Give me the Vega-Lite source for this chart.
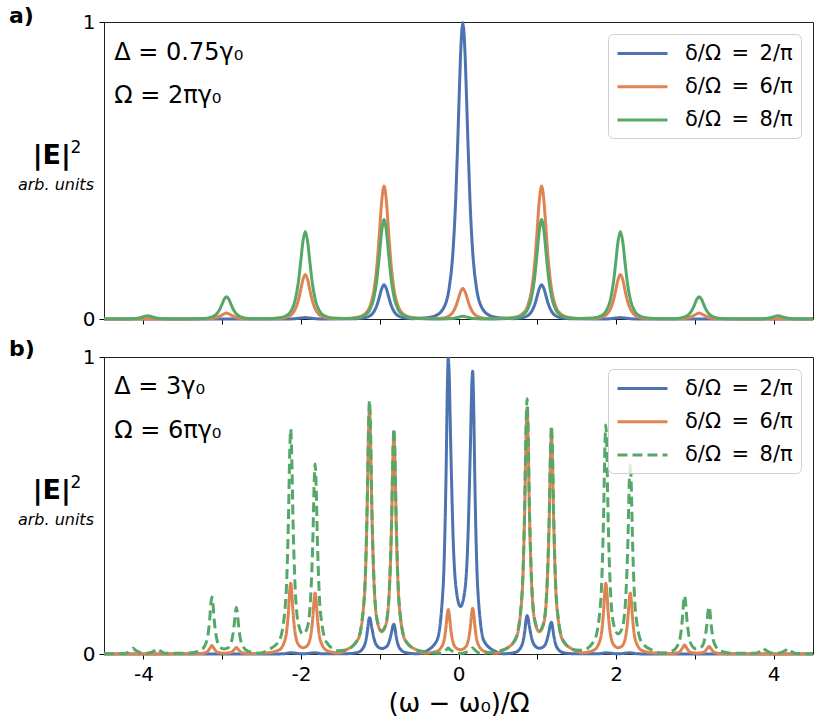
{
  "$schema": "https://vega.github.io/schema/vega-lite/v6.json",
  "padding": {"left": 8, "top": 4, "right": 10, "bottom": 6},
  "background": "white",
  "config": {
    "font": "DejaVu Sans",
    "view": {"stroke": "#222", "strokeWidth": 1},
    "axis": {"grid": false, "domain": false, "tickColor": "#000", "tickSize": 5, "tickWidth": 1, "labelColor": "#000", "labelFontSize": 20, "labelFont": "DejaVu Sans", "titleColor": "#000", "titleFont": "DejaVu Sans", "titleFontWeight": "normal"},
    "legend": {"orient": "top-right", "offset": 12, "fillColor": "rgba(255,255,255,0.8)", "strokeColor": "#d0d0d0", "cornerRadius": 5, "padding": 8, "labelFontSize": 21, "labelFont": "DejaVu Sans", "labelColor": "#000", "symbolType": "M-1,0H4", "symbolStrokeWidth": 3, "symbolSize": 400, "rowPadding": 11.2, "labelOffset": 46, "labelLimit": 400}
  },
  "datasets": {
    "a": [
      {"s":"2/π","x":-4.5,"y":0},{"s":"2/π","x":-2.5,"y":0},
      {"s":"2/π","x":-2.195,"y":0.0002},{"s":"2/π","x":-2.075,"y":0.001},{"s":"2/π","x":-2.005,"y":0.003},{"s":"2/π","x":-1.945,"y":0.005},{"s":"2/π","x":-1.885,"y":0.003},{"s":"2/π","x":-1.815,"y":0.001},{"s":"2/π","x":-1.695,"y":0.0002},
      {"s":"2/π","x":-1.295,"y":0.0012},{"s":"2/π","x":-1.195,"y":0.0039},{"s":"2/π","x":-1.125,"y":0.0106},{"s":"2/π","x":-1.075,"y":0.0239},{"s":"2/π","x":-1.035,"y":0.0466},{"s":"2/π","x":-1.005,"y":0.0731},{"s":"2/π","x":-0.975,"y":0.1017},{"s":"2/π","x":-0.945,"y":0.115},{"s":"2/π","x":-0.915,"y":0.1017},{"s":"2/π","x":-0.885,"y":0.0731},{"s":"2/π","x":-0.855,"y":0.0466},{"s":"2/π","x":-0.815,"y":0.0239},{"s":"2/π","x":-0.765,"y":0.0106},{"s":"2/π","x":-0.695,"y":0.0039},{"s":"2/π","x":-0.595,"y":0.0012},
      {"s":"2/π","x":-0.445,"y":0.003},
      {"s":"2/π","x":-0.295,"y":0.0107},{"s":"2/π","x":-0.195,"y":0.0339},{"s":"2/π","x":-0.125,"y":0.0923},{"s":"2/π","x":-0.075,"y":0.2076},{"s":"2/π","x":-0.035,"y":0.4042},{"s":"2/π","x":-0.005,"y":0.6347},{"s":"2/π","x":0.025,"y":0.8822},{"s":"2/π","x":0.055,"y":0.998},{"s":"2/π","x":0.085,"y":0.8822},{"s":"2/π","x":0.115,"y":0.6347},{"s":"2/π","x":0.145,"y":0.4042},{"s":"2/π","x":0.185,"y":0.2076},{"s":"2/π","x":0.235,"y":0.0923},{"s":"2/π","x":0.305,"y":0.0339},{"s":"2/π","x":0.405,"y":0.0107},
      {"s":"2/π","x":0.555,"y":0.003},
      {"s":"2/π","x":0.705,"y":0.0012},{"s":"2/π","x":0.805,"y":0.0039},{"s":"2/π","x":0.875,"y":0.0106},{"s":"2/π","x":0.925,"y":0.0239},{"s":"2/π","x":0.965,"y":0.0466},{"s":"2/π","x":0.995,"y":0.0731},{"s":"2/π","x":1.025,"y":0.1017},{"s":"2/π","x":1.055,"y":0.115},{"s":"2/π","x":1.085,"y":0.1017},{"s":"2/π","x":1.115,"y":0.0731},{"s":"2/π","x":1.145,"y":0.0466},{"s":"2/π","x":1.185,"y":0.0239},{"s":"2/π","x":1.235,"y":0.0106},{"s":"2/π","x":1.305,"y":0.0039},{"s":"2/π","x":1.405,"y":0.0012},
      {"s":"2/π","x":1.805,"y":0.0002},{"s":"2/π","x":1.925,"y":0.001},{"s":"2/π","x":1.995,"y":0.003},{"s":"2/π","x":2.055,"y":0.005},{"s":"2/π","x":2.115,"y":0.003},{"s":"2/π","x":2.185,"y":0.001},{"s":"2/π","x":2.305,"y":0.0002},
      {"s":"2/π","x":2.6,"y":0},{"s":"2/π","x":4.5,"y":0},

      {"s":"6/π","x":-4.5,"y":0},{"s":"6/π","x":-3.445,"y":0.0002},
      {"s":"6/π","x":-3.195,"y":0.0007},{"s":"6/π","x":-3.075,"y":0.0042},{"s":"6/π","x":-3.005,"y":0.0127},{"s":"6/π","x":-2.945,"y":0.02},{"s":"6/π","x":-2.885,"y":0.0127},{"s":"6/π","x":-2.815,"y":0.0042},{"s":"6/π","x":-2.695,"y":0.0007},
      {"s":"6/π","x":-2.445,"y":0.0005},
      {"s":"6/π","x":-2.295,"y":0.0016},{"s":"6/π","x":-2.195,"y":0.0051},{"s":"6/π","x":-2.125,"y":0.0139},{"s":"6/π","x":-2.075,"y":0.0312},{"s":"6/π","x":-2.035,"y":0.0608},{"s":"6/π","x":-2.005,"y":0.0954},{"s":"6/π","x":-1.975,"y":0.1326},{"s":"6/π","x":-1.945,"y":0.15},{"s":"6/π","x":-1.915,"y":0.1326},{"s":"6/π","x":-1.885,"y":0.0954},{"s":"6/π","x":-1.855,"y":0.0608},{"s":"6/π","x":-1.815,"y":0.0312},{"s":"6/π","x":-1.765,"y":0.0139},{"s":"6/π","x":-1.695,"y":0.0051},{"s":"6/π","x":-1.595,"y":0.0016},
      {"s":"6/π","x":-1.445,"y":0.0017},
      {"s":"6/π","x":-1.295,"y":0.0048},{"s":"6/π","x":-1.195,"y":0.0152},{"s":"6/π","x":-1.125,"y":0.0414},{"s":"6/π","x":-1.075,"y":0.0932},{"s":"6/π","x":-1.035,"y":0.1814},{"s":"6/π","x":-1.005,"y":0.2849},{"s":"6/π","x":-0.975,"y":0.396},{"s":"6/π","x":-0.945,"y":0.448},{"s":"6/π","x":-0.915,"y":0.396},{"s":"6/π","x":-0.885,"y":0.2849},{"s":"6/π","x":-0.855,"y":0.1814},{"s":"6/π","x":-0.815,"y":0.0932},{"s":"6/π","x":-0.765,"y":0.0414},{"s":"6/π","x":-0.695,"y":0.0152},{"s":"6/π","x":-0.595,"y":0.0048},
      {"s":"6/π","x":-0.445,"y":0.0016},
      {"s":"6/π","x":-0.295,"y":0.0011},{"s":"6/π","x":-0.195,"y":0.0035},{"s":"6/π","x":-0.125,"y":0.0095},{"s":"6/π","x":-0.075,"y":0.0214},{"s":"6/π","x":-0.035,"y":0.0417},{"s":"6/π","x":-0.005,"y":0.0655},{"s":"6/π","x":0.025,"y":0.091},{"s":"6/π","x":0.055,"y":0.103},{"s":"6/π","x":0.085,"y":0.091},{"s":"6/π","x":0.115,"y":0.0655},{"s":"6/π","x":0.145,"y":0.0417},{"s":"6/π","x":0.185,"y":0.0214},{"s":"6/π","x":0.235,"y":0.0095},{"s":"6/π","x":0.305,"y":0.0035},{"s":"6/π","x":0.405,"y":0.0011},
      {"s":"6/π","x":0.555,"y":0.0016},
      {"s":"6/π","x":0.705,"y":0.0048},{"s":"6/π","x":0.805,"y":0.0152},{"s":"6/π","x":0.875,"y":0.0414},{"s":"6/π","x":0.925,"y":0.0932},{"s":"6/π","x":0.965,"y":0.1814},{"s":"6/π","x":0.995,"y":0.2849},{"s":"6/π","x":1.025,"y":0.396},{"s":"6/π","x":1.055,"y":0.448},{"s":"6/π","x":1.085,"y":0.396},{"s":"6/π","x":1.115,"y":0.2849},{"s":"6/π","x":1.145,"y":0.1814},{"s":"6/π","x":1.185,"y":0.0932},{"s":"6/π","x":1.235,"y":0.0414},{"s":"6/π","x":1.305,"y":0.0152},{"s":"6/π","x":1.405,"y":0.0048},
      {"s":"6/π","x":1.555,"y":0.0017},
      {"s":"6/π","x":1.705,"y":0.0016},{"s":"6/π","x":1.805,"y":0.0051},{"s":"6/π","x":1.875,"y":0.0139},{"s":"6/π","x":1.925,"y":0.0312},{"s":"6/π","x":1.965,"y":0.0608},{"s":"6/π","x":1.995,"y":0.0954},{"s":"6/π","x":2.025,"y":0.1326},{"s":"6/π","x":2.055,"y":0.15},{"s":"6/π","x":2.085,"y":0.1326},{"s":"6/π","x":2.115,"y":0.0954},{"s":"6/π","x":2.145,"y":0.0608},{"s":"6/π","x":2.185,"y":0.0312},{"s":"6/π","x":2.235,"y":0.0139},{"s":"6/π","x":2.305,"y":0.0051},{"s":"6/π","x":2.405,"y":0.0016},
      {"s":"6/π","x":2.555,"y":0.0005},
      {"s":"6/π","x":2.805,"y":0.0007},{"s":"6/π","x":2.925,"y":0.0042},{"s":"6/π","x":2.995,"y":0.0127},{"s":"6/π","x":3.055,"y":0.02},{"s":"6/π","x":3.115,"y":0.0127},{"s":"6/π","x":3.185,"y":0.0042},{"s":"6/π","x":3.305,"y":0.0007},
      {"s":"6/π","x":3.555,"y":0.0002},{"s":"6/π","x":4.5,"y":0},

      {"s":"8/π","x":-4.5,"y":0.0001},
      {"s":"8/π","x":-4.195,"y":0.0004},{"s":"8/π","x":-4.075,"y":0.0023},{"s":"8/π","x":-4.005,"y":0.007},{"s":"8/π","x":-3.945,"y":0.011},{"s":"8/π","x":-3.885,"y":0.007},{"s":"8/π","x":-3.815,"y":0.0023},{"s":"8/π","x":-3.695,"y":0.0004},
      {"s":"8/π","x":-3.445,"y":0.0003},
      {"s":"8/π","x":-3.295,"y":0.0008},{"s":"8/π","x":-3.195,"y":0.0026},{"s":"8/π","x":-3.125,"y":0.0069},{"s":"8/π","x":-3.075,"y":0.0156},{"s":"8/π","x":-3.035,"y":0.0304},{"s":"8/π","x":-3.005,"y":0.0477},{"s":"8/π","x":-2.975,"y":0.0663},{"s":"8/π","x":-2.945,"y":0.075},{"s":"8/π","x":-2.915,"y":0.0663},{"s":"8/π","x":-2.885,"y":0.0477},{"s":"8/π","x":-2.855,"y":0.0304},{"s":"8/π","x":-2.815,"y":0.0156},{"s":"8/π","x":-2.765,"y":0.0069},{"s":"8/π","x":-2.695,"y":0.0026},{"s":"8/π","x":-2.595,"y":0.0008},
      {"s":"8/π","x":-2.445,"y":0.0011},
      {"s":"8/π","x":-2.295,"y":0.0032},{"s":"8/π","x":-2.195,"y":0.01},{"s":"8/π","x":-2.125,"y":0.0273},{"s":"8/π","x":-2.075,"y":0.0614},{"s":"8/π","x":-2.035,"y":0.1195},{"s":"8/π","x":-2.005,"y":0.1876},{"s":"8/π","x":-1.975,"y":0.2608},{"s":"8/π","x":-1.945,"y":0.295},{"s":"8/π","x":-1.915,"y":0.2608},{"s":"8/π","x":-1.885,"y":0.1876},{"s":"8/π","x":-1.855,"y":0.1195},{"s":"8/π","x":-1.815,"y":0.0614},{"s":"8/π","x":-1.765,"y":0.0273},{"s":"8/π","x":-1.695,"y":0.01},{"s":"8/π","x":-1.595,"y":0.0032},
      {"s":"8/π","x":-1.445,"y":0.0018},
      {"s":"8/π","x":-1.295,"y":0.0036},{"s":"8/π","x":-1.195,"y":0.0114},{"s":"8/π","x":-1.125,"y":0.031},{"s":"8/π","x":-1.075,"y":0.0697},{"s":"8/π","x":-1.035,"y":0.1357},{"s":"8/π","x":-1.005,"y":0.2131},{"s":"8/π","x":-0.975,"y":0.2961},{"s":"8/π","x":-0.945,"y":0.335},{"s":"8/π","x":-0.915,"y":0.2961},{"s":"8/π","x":-0.885,"y":0.2131},{"s":"8/π","x":-0.855,"y":0.1357},{"s":"8/π","x":-0.815,"y":0.0697},{"s":"8/π","x":-0.765,"y":0.031},{"s":"8/π","x":-0.695,"y":0.0114},{"s":"8/π","x":-0.595,"y":0.0036},
      {"s":"8/π","x":-0.445,"y":0.001},
      {"s":"8/π","x":-0.195,"y":0.0003},{"s":"8/π","x":-0.075,"y":0.0019},{"s":"8/π","x":-0.005,"y":0.0057},{"s":"8/π","x":0.055,"y":0.009},{"s":"8/π","x":0.115,"y":0.0057},{"s":"8/π","x":0.185,"y":0.0019},{"s":"8/π","x":0.305,"y":0.0003},
      {"s":"8/π","x":0.555,"y":0.001},
      {"s":"8/π","x":0.705,"y":0.0036},{"s":"8/π","x":0.805,"y":0.0114},{"s":"8/π","x":0.875,"y":0.031},{"s":"8/π","x":0.925,"y":0.0697},{"s":"8/π","x":0.965,"y":0.1357},{"s":"8/π","x":0.995,"y":0.2131},{"s":"8/π","x":1.025,"y":0.2961},{"s":"8/π","x":1.055,"y":0.335},{"s":"8/π","x":1.085,"y":0.2961},{"s":"8/π","x":1.115,"y":0.2131},{"s":"8/π","x":1.145,"y":0.1357},{"s":"8/π","x":1.185,"y":0.0697},{"s":"8/π","x":1.235,"y":0.031},{"s":"8/π","x":1.305,"y":0.0114},{"s":"8/π","x":1.405,"y":0.0036},
      {"s":"8/π","x":1.555,"y":0.0018},
      {"s":"8/π","x":1.705,"y":0.0032},{"s":"8/π","x":1.805,"y":0.01},{"s":"8/π","x":1.875,"y":0.0273},{"s":"8/π","x":1.925,"y":0.0614},{"s":"8/π","x":1.965,"y":0.1195},{"s":"8/π","x":1.995,"y":0.1876},{"s":"8/π","x":2.025,"y":0.2608},{"s":"8/π","x":2.055,"y":0.295},{"s":"8/π","x":2.085,"y":0.2608},{"s":"8/π","x":2.115,"y":0.1876},{"s":"8/π","x":2.145,"y":0.1195},{"s":"8/π","x":2.185,"y":0.0614},{"s":"8/π","x":2.235,"y":0.0273},{"s":"8/π","x":2.305,"y":0.01},{"s":"8/π","x":2.405,"y":0.0032},
      {"s":"8/π","x":2.555,"y":0.0011},
      {"s":"8/π","x":2.705,"y":0.0008},{"s":"8/π","x":2.805,"y":0.0026},{"s":"8/π","x":2.875,"y":0.0069},{"s":"8/π","x":2.925,"y":0.0156},{"s":"8/π","x":2.965,"y":0.0304},{"s":"8/π","x":2.995,"y":0.0477},{"s":"8/π","x":3.025,"y":0.0663},{"s":"8/π","x":3.055,"y":0.075},{"s":"8/π","x":3.085,"y":0.0663},{"s":"8/π","x":3.115,"y":0.0477},{"s":"8/π","x":3.145,"y":0.0304},{"s":"8/π","x":3.185,"y":0.0156},{"s":"8/π","x":3.235,"y":0.0069},{"s":"8/π","x":3.305,"y":0.0026},{"s":"8/π","x":3.405,"y":0.0008},
      {"s":"8/π","x":3.555,"y":0.0003},
      {"s":"8/π","x":3.805,"y":0.0004},{"s":"8/π","x":3.925,"y":0.0023},{"s":"8/π","x":3.995,"y":0.007},{"s":"8/π","x":4.055,"y":0.011},{"s":"8/π","x":4.115,"y":0.007},{"s":"8/π","x":4.185,"y":0.0023},{"s":"8/π","x":4.305,"y":0.0004},
      {"s":"8/π","x":4.5,"y":0.0001}
    ],
    "b": [
      {"s":"2/π","x":-4.5,"y":0},{"s":"2/π","x":-2.6,"y":0},
      {"s":"2/π","x":-2.225,"y":0.0005},{"s":"2/π","x":-2.13,"y":0.004},{"s":"2/π","x":-1.975,"y":0.0005},{"s":"2/π","x":-1.82,"y":0.004},{"s":"2/π","x":-1.725,"y":0.0005},
      {"s":"2/π","x":-1.425,"y":0.001},{"s":"2/π","x":-1.275,"y":0.0057},{"s":"2/π","x":-1.195,"y":0.028},{"s":"2/π","x":-1.16,"y":0.0703},{"s":"2/π","x":-1.14,"y":0.1122},{"s":"2/π","x":-1.13,"y":0.1222},{"s":"2/π","x":-1.12,"y":0.1172},{"s":"2/π","x":-1.1,"y":0.0879},{"s":"2/π","x":-1.065,"y":0.0447},{"s":"2/π","x":-1.025,"y":0.0249},{"s":"2/π","x":-0.975,"y":0.0184},{"s":"2/π","x":-0.925,"y":0.0225},{"s":"2/π","x":-0.885,"y":0.038},{"s":"2/π","x":-0.85,"y":0.0731},{"s":"2/π","x":-0.83,"y":0.0967},{"s":"2/π","x":-0.82,"y":0.1003},{"s":"2/π","x":-0.81,"y":0.0916},{"s":"2/π","x":-0.79,"y":0.0575},{"s":"2/π","x":-0.755,"y":0.023},{"s":"2/π","x":-0.675,"y":0.005},{"s":"2/π","x":-0.525,"y":0.0008},
      {"s":"2/π","x":-0.425,"y":0.008},{"s":"2/π","x":-0.275,"y":0.045},{"s":"2/π","x":-0.195,"y":0.227},{"s":"2/π","x":-0.16,"y":0.572},{"s":"2/π","x":-0.14,"y":0.912},{"s":"2/π","x":-0.13,"y":0.996},{"s":"2/π","x":-0.12,"y":0.955},{"s":"2/π","x":-0.1,"y":0.718},{"s":"2/π","x":-0.065,"y":0.368},{"s":"2/π","x":-0.025,"y":0.209},{"s":"2/π","x":0.025,"y":0.16},{"s":"2/π","x":0.075,"y":0.204},{"s":"2/π","x":0.115,"y":0.354},{"s":"2/π","x":0.15,"y":0.688},{"s":"2/π","x":0.17,"y":0.913},{"s":"2/π","x":0.18,"y":0.952},{"s":"2/π","x":0.19,"y":0.871},{"s":"2/π","x":0.21,"y":0.546},{"s":"2/π","x":0.245,"y":0.217},{"s":"2/π","x":0.325,"y":0.043},{"s":"2/π","x":0.475,"y":0.008},
      {"s":"2/π","x":0.575,"y":0.0008},{"s":"2/π","x":0.725,"y":0.006},{"s":"2/π","x":0.805,"y":0.0296},{"s":"2/π","x":0.84,"y":0.0744},{"s":"2/π","x":0.86,"y":0.1187},{"s":"2/π","x":0.87,"y":0.1293},{"s":"2/π","x":0.88,"y":0.124},{"s":"2/π","x":0.9,"y":0.093},{"s":"2/π","x":0.935,"y":0.0473},{"s":"2/π","x":0.975,"y":0.0264},{"s":"2/π","x":1.025,"y":0.0195},{"s":"2/π","x":1.075,"y":0.0238},{"s":"2/π","x":1.115,"y":0.0402},{"s":"2/π","x":1.15,"y":0.0774},{"s":"2/π","x":1.17,"y":0.1025},{"s":"2/π","x":1.18,"y":0.1069},{"s":"2/π","x":1.19,"y":0.0976},{"s":"2/π","x":1.21,"y":0.0613},{"s":"2/π","x":1.245,"y":0.0245},{"s":"2/π","x":1.325,"y":0.005},{"s":"2/π","x":1.475,"y":0.0008},
      {"s":"2/π","x":1.775,"y":0.0005},{"s":"2/π","x":1.87,"y":0.004},{"s":"2/π","x":2.025,"y":0.0005},{"s":"2/π","x":2.18,"y":0.004},{"s":"2/π","x":2.275,"y":0.0005},
      {"s":"2/π","x":2.6,"y":0},{"s":"2/π","x":4.5,"y":0},

      {"s":"6/π","x":-4.5,"y":0},{"s":"6/π","x":-3.6,"y":0.0005},
      {"s":"6/π","x":-3.275,"y":0.0017},{"s":"6/π","x":-3.195,"y":0.0065},{"s":"6/π","x":-3.15,"y":0.0213},{"s":"6/π","x":-3.13,"y":0.0283},{"s":"6/π","x":-3.11,"y":0.0213},{"s":"6/π","x":-3.065,"y":0.0067},{"s":"6/π","x":-2.975,"y":0.0024},{"s":"6/π","x":-2.885,"y":0.0058},{"s":"6/π","x":-2.84,"y":0.0169},{"s":"6/π","x":-2.82,"y":0.0223},{"s":"6/π","x":-2.8,"y":0.0169},{"s":"6/π","x":-2.755,"y":0.0052},{"s":"6/π","x":-2.675,"y":0.0014},
      {"s":"6/π","x":-2.425,"y":0.004},{"s":"6/π","x":-2.275,"y":0.0142},{"s":"6/π","x":-2.195,"y":0.0548},{"s":"6/π","x":-2.16,"y":0.1382},{"s":"6/π","x":-2.14,"y":0.2206},{"s":"6/π","x":-2.13,"y":0.2386},{"s":"6/π","x":-2.12,"y":0.2209},{"s":"6/π","x":-2.1,"y":0.1392},{"s":"6/π","x":-2.065,"y":0.0571},{"s":"6/π","x":-2.025,"y":0.0293},{"s":"6/π","x":-1.975,"y":0.0212},{"s":"6/π","x":-1.925,"y":0.0269},{"s":"6/π","x":-1.885,"y":0.0501},{"s":"6/π","x":-1.85,"y":0.1201},{"s":"6/π","x":-1.83,"y":0.1899},{"s":"6/π","x":-1.82,"y":0.205},{"s":"6/π","x":-1.81,"y":0.1895},{"s":"6/π","x":-1.79,"y":0.1189},{"s":"6/π","x":-1.755,"y":0.0475},{"s":"6/π","x":-1.675,"y":0.0125},{"s":"6/π","x":-1.525,"y":0.0036},
      {"s":"6/π","x":-1.425,"y":0.0138},{"s":"6/π","x":-1.275,"y":0.0495},{"s":"6/π","x":-1.195,"y":0.1906},{"s":"6/π","x":-1.16,"y":0.4804},{"s":"6/π","x":-1.14,"y":0.7667},{"s":"6/π","x":-1.13,"y":0.8292},{"s":"6/π","x":-1.12,"y":0.7679},{"s":"6/π","x":-1.1,"y":0.484},{"s":"6/π","x":-1.065,"y":0.1989},{"s":"6/π","x":-1.025,"y":0.1027},{"s":"6/π","x":-0.975,"y":0.0752},{"s":"6/π","x":-0.925,"y":0.0962},{"s":"6/π","x":-0.885,"y":0.1805},{"s":"6/π","x":-0.85,"y":0.4335},{"s":"6/π","x":-0.83,"y":0.6859},{"s":"6/π","x":-0.82,"y":0.7403},{"s":"6/π","x":-0.81,"y":0.6846},{"s":"6/π","x":-0.79,"y":0.4295},{"s":"6/π","x":-0.755,"y":0.1712},{"s":"6/π","x":-0.675,"y":0.0451},{"s":"6/π","x":-0.525,"y":0.0129},
      {"s":"6/π","x":-0.425,"y":0.0026},{"s":"6/π","x":-0.275,"y":0.0091},{"s":"6/π","x":-0.195,"y":0.0346},{"s":"6/π","x":-0.16,"y":0.0869},{"s":"6/π","x":-0.14,"y":0.1386},{"s":"6/π","x":-0.13,"y":0.1499},{"s":"6/π","x":-0.12,"y":0.1389},{"s":"6/π","x":-0.1,"y":0.0877},{"s":"6/π","x":-0.065,"y":0.0363},{"s":"6/π","x":-0.025,"y":0.0191},{"s":"6/π","x":0.025,"y":0.0146},{"s":"6/π","x":0.075,"y":0.0194},{"s":"6/π","x":0.115,"y":0.0371},{"s":"6/π","x":0.15,"y":0.0899},{"s":"6/π","x":0.17,"y":0.1425},{"s":"6/π","x":0.18,"y":0.1539},{"s":"6/π","x":0.19,"y":0.1423},{"s":"6/π","x":0.21,"y":0.0892},{"s":"6/π","x":0.245,"y":0.0354},{"s":"6/π","x":0.325,"y":0.0093},{"s":"6/π","x":0.475,"y":0.0026},
      {"s":"6/π","x":0.575,"y":0.0138},{"s":"6/π","x":0.725,"y":0.0495},{"s":"6/π","x":0.805,"y":0.1906},{"s":"6/π","x":0.84,"y":0.4804},{"s":"6/π","x":0.86,"y":0.7667},{"s":"6/π","x":0.87,"y":0.8292},{"s":"6/π","x":0.88,"y":0.7679},{"s":"6/π","x":0.9,"y":0.484},{"s":"6/π","x":0.935,"y":0.1989},{"s":"6/π","x":0.975,"y":0.1027},{"s":"6/π","x":1.025,"y":0.0752},{"s":"6/π","x":1.075,"y":0.0962},{"s":"6/π","x":1.115,"y":0.1805},{"s":"6/π","x":1.15,"y":0.4335},{"s":"6/π","x":1.17,"y":0.6859},{"s":"6/π","x":1.18,"y":0.7403},{"s":"6/π","x":1.19,"y":0.6846},{"s":"6/π","x":1.21,"y":0.4295},{"s":"6/π","x":1.245,"y":0.1712},{"s":"6/π","x":1.325,"y":0.0451},{"s":"6/π","x":1.475,"y":0.0129},
      {"s":"6/π","x":1.575,"y":0.004},{"s":"6/π","x":1.725,"y":0.0142},{"s":"6/π","x":1.805,"y":0.0548},{"s":"6/π","x":1.84,"y":0.1382},{"s":"6/π","x":1.86,"y":0.2206},{"s":"6/π","x":1.87,"y":0.2386},{"s":"6/π","x":1.88,"y":0.2209},{"s":"6/π","x":1.9,"y":0.1392},{"s":"6/π","x":1.935,"y":0.0571},{"s":"6/π","x":1.975,"y":0.0293},{"s":"6/π","x":2.025,"y":0.0212},{"s":"6/π","x":2.075,"y":0.0269},{"s":"6/π","x":2.115,"y":0.0501},{"s":"6/π","x":2.15,"y":0.1201},{"s":"6/π","x":2.17,"y":0.1899},{"s":"6/π","x":2.18,"y":0.205},{"s":"6/π","x":2.19,"y":0.1895},{"s":"6/π","x":2.21,"y":0.1189},{"s":"6/π","x":2.245,"y":0.0475},{"s":"6/π","x":2.325,"y":0.0125},{"s":"6/π","x":2.475,"y":0.0036},
      {"s":"6/π","x":2.725,"y":0.0018},{"s":"6/π","x":2.805,"y":0.0069},{"s":"6/π","x":2.85,"y":0.0229},{"s":"6/π","x":2.87,"y":0.0303},{"s":"6/π","x":2.89,"y":0.0229},{"s":"6/π","x":2.935,"y":0.0072},{"s":"6/π","x":3.025,"y":0.0027},{"s":"6/π","x":3.115,"y":0.0062},{"s":"6/π","x":3.16,"y":0.0193},{"s":"6/π","x":3.18,"y":0.0254},{"s":"6/π","x":3.2,"y":0.0193},{"s":"6/π","x":3.245,"y":0.0059},{"s":"6/π","x":3.325,"y":0.0015},
      {"s":"6/π","x":3.6,"y":0.0005},{"s":"6/π","x":4.5,"y":0},

      {"s":"8/π","x":-4.5,"y":0.0005},
      {"s":"8/π","x":-4.225,"y":0.0025},{"s":"8/π","x":-4.15,"y":0.0145},{"s":"8/π","x":-4.13,"y":0.0192},{"s":"8/π","x":-4.11,"y":0.0145},{"s":"8/π","x":-3.975,"y":0.0018},{"s":"8/π","x":-3.84,"y":0.0138},{"s":"8/π","x":-3.82,"y":0.0182},{"s":"8/π","x":-3.8,"y":0.0138},{"s":"8/π","x":-3.725,"y":0.0024},
      {"s":"8/π","x":-3.425,"y":0.0031},{"s":"8/π","x":-3.275,"y":0.0114},{"s":"8/π","x":-3.195,"y":0.0441},{"s":"8/π","x":-3.16,"y":0.1112},{"s":"8/π","x":-3.14,"y":0.1775},{"s":"8/π","x":-3.13,"y":0.1919},{"s":"8/π","x":-3.12,"y":0.1777},{"s":"8/π","x":-3.1,"y":0.1119},{"s":"8/π","x":-3.065,"y":0.0458},{"s":"8/π","x":-3.025,"y":0.0234},{"s":"8/π","x":-2.975,"y":0.0167},{"s":"8/π","x":-2.925,"y":0.0208},{"s":"8/π","x":-2.885,"y":0.0384},{"s":"8/π","x":-2.85,"y":0.0917},{"s":"8/π","x":-2.83,"y":0.1449},{"s":"8/π","x":-2.82,"y":0.1564},{"s":"8/π","x":-2.81,"y":0.1446},{"s":"8/π","x":-2.79,"y":0.0908},{"s":"8/π","x":-2.755,"y":0.0363},{"s":"8/π","x":-2.675,"y":0.0096},{"s":"8/π","x":-2.525,"y":0.0027},
      {"s":"8/π","x":-2.425,"y":0.0125},{"s":"8/π","x":-2.275,"y":0.045},{"s":"8/π","x":-2.195,"y":0.1738},{"s":"8/π","x":-2.16,"y":0.4384},{"s":"8/π","x":-2.14,"y":0.6999},{"s":"8/π","x":-2.13,"y":0.7569},{"s":"8/π","x":-2.12,"y":0.7009},{"s":"8/π","x":-2.1,"y":0.4415},{"s":"8/π","x":-2.065,"y":0.181},{"s":"8/π","x":-2.025,"y":0.0927},{"s":"8/π","x":-1.975,"y":0.0669},{"s":"8/π","x":-1.925,"y":0.0842},{"s":"8/π","x":-1.885,"y":0.1566},{"s":"8/π","x":-1.85,"y":0.3747},{"s":"8/π","x":-1.83,"y":0.5925},{"s":"8/π","x":-1.82,"y":0.6394},{"s":"8/π","x":-1.81,"y":0.5913},{"s":"8/π","x":-1.79,"y":0.3711},{"s":"8/π","x":-1.755,"y":0.1481},{"s":"8/π","x":-1.675,"y":0.0391},{"s":"8/π","x":-1.525,"y":0.0112},
      {"s":"8/π","x":-1.425,"y":0.0142},{"s":"8/π","x":-1.275,"y":0.0509},{"s":"8/π","x":-1.195,"y":0.1962},{"s":"8/π","x":-1.16,"y":0.4944},{"s":"8/π","x":-1.14,"y":0.7891},{"s":"8/π","x":-1.13,"y":0.8534},{"s":"8/π","x":-1.12,"y":0.7903},{"s":"8/π","x":-1.1,"y":0.4981},{"s":"8/π","x":-1.065,"y":0.2047},{"s":"8/π","x":-1.025,"y":0.1056},{"s":"8/π","x":-0.975,"y":0.0773},{"s":"8/π","x":-0.925,"y":0.0988},{"s":"8/π","x":-0.885,"y":0.1853},{"s":"8/π","x":-0.85,"y":0.4448},{"s":"8/π","x":-0.83,"y":0.7038},{"s":"8/π","x":-0.82,"y":0.7596},{"s":"8/π","x":-0.81,"y":0.7024},{"s":"8/π","x":-0.79,"y":0.4407},{"s":"8/π","x":-0.755,"y":0.1756},{"s":"8/π","x":-0.675,"y":0.0463},{"s":"8/π","x":-0.525,"y":0.0132},
      {"s":"8/π","x":-0.225,"y":0.0026},{"s":"8/π","x":-0.15,"y":0.0153},{"s":"8/π","x":-0.13,"y":0.0203},{"s":"8/π","x":-0.11,"y":0.0153},{"s":"8/π","x":0.025,"y":0.0019},{"s":"8/π","x":0.16,"y":0.0153},{"s":"8/π","x":0.18,"y":0.0203},{"s":"8/π","x":0.2,"y":0.0153},{"s":"8/π","x":0.275,"y":0.0026},
      {"s":"8/π","x":0.575,"y":0.0143},{"s":"8/π","x":0.725,"y":0.0513},{"s":"8/π","x":0.805,"y":0.1976},{"s":"8/π","x":0.84,"y":0.498},{"s":"8/π","x":0.86,"y":0.7948},{"s":"8/π","x":0.87,"y":0.8595},{"s":"8/π","x":0.88,"y":0.796},{"s":"8/π","x":0.9,"y":0.5017},{"s":"8/π","x":0.935,"y":0.2062},{"s":"8/π","x":0.975,"y":0.1064},{"s":"8/π","x":1.025,"y":0.0779},{"s":"8/π","x":1.075,"y":0.0998},{"s":"8/π","x":1.115,"y":0.1872},{"s":"8/π","x":1.15,"y":0.4495},{"s":"8/π","x":1.17,"y":0.7112},{"s":"8/π","x":1.18,"y":0.7677},{"s":"8/π","x":1.19,"y":0.7099},{"s":"8/π","x":1.21,"y":0.4453},{"s":"8/π","x":1.245,"y":0.1775},{"s":"8/π","x":1.325,"y":0.0467},{"s":"8/π","x":1.475,"y":0.0133},
      {"s":"8/π","x":1.575,"y":0.0127},{"s":"8/π","x":1.725,"y":0.0458},{"s":"8/π","x":1.805,"y":0.177},{"s":"8/π","x":1.84,"y":0.4465},{"s":"8/π","x":1.86,"y":0.7129},{"s":"8/π","x":1.87,"y":0.771},{"s":"8/π","x":1.88,"y":0.7139},{"s":"8/π","x":1.9,"y":0.4496},{"s":"8/π","x":1.935,"y":0.1842},{"s":"8/π","x":1.975,"y":0.0942},{"s":"8/π","x":2.025,"y":0.0678},{"s":"8/π","x":2.075,"y":0.085},{"s":"8/π","x":2.115,"y":0.1578},{"s":"8/π","x":2.15,"y":0.3773},{"s":"8/π","x":2.17,"y":0.5964},{"s":"8/π","x":2.18,"y":0.6436},{"s":"8/π","x":2.19,"y":0.5951},{"s":"8/π","x":2.21,"y":0.3735},{"s":"8/π","x":2.245,"y":0.1491},{"s":"8/π","x":2.325,"y":0.0394},{"s":"8/π","x":2.475,"y":0.0113},
      {"s":"8/π","x":2.575,"y":0.0032},{"s":"8/π","x":2.725,"y":0.0116},{"s":"8/π","x":2.805,"y":0.045},{"s":"8/π","x":2.84,"y":0.1135},{"s":"8/π","x":2.86,"y":0.1812},{"s":"8/π","x":2.87,"y":0.196},{"s":"8/π","x":2.88,"y":0.1815},{"s":"8/π","x":2.9,"y":0.1143},{"s":"8/π","x":2.935,"y":0.0468},{"s":"8/π","x":2.975,"y":0.0238},{"s":"8/π","x":3.025,"y":0.017},{"s":"8/π","x":3.075,"y":0.0212},{"s":"8/π","x":3.115,"y":0.0392},{"s":"8/π","x":3.15,"y":0.0935},{"s":"8/π","x":3.17,"y":0.1478},{"s":"8/π","x":3.18,"y":0.1594},{"s":"8/π","x":3.19,"y":0.1474},{"s":"8/π","x":3.21,"y":0.0926},{"s":"8/π","x":3.245,"y":0.037},{"s":"8/π","x":3.325,"y":0.0098},{"s":"8/π","x":3.475,"y":0.0028},
      {"s":"8/π","x":3.775,"y":0.0025},{"s":"8/π","x":3.85,"y":0.0145},{"s":"8/π","x":3.87,"y":0.0192},{"s":"8/π","x":3.89,"y":0.0145},{"s":"8/π","x":4.025,"y":0.0018},{"s":"8/π","x":4.16,"y":0.0138},{"s":"8/π","x":4.18,"y":0.0182},{"s":"8/π","x":4.2,"y":0.0138},{"s":"8/π","x":4.275,"y":0.0024},
      {"s":"8/π","x":4.5,"y":0.0005}
    ]
  },
  "spacing": 38,
  "bounds": "flush",
  "resolve": {
    "scale": {"x": "independent", "y": "independent", "color": "independent", "strokeDash": "independent"},
    "legend": {"color": "independent", "strokeDash": "independent"}
  },
  "vconcat": [
    {
      "width": 709,
      "height": 297,
      "layer": [
        {
          "data": {"name": "a"},
          "mark": {"type": "line", "strokeWidth": 3, "strokeJoin": "round", "interpolate": "monotone"},
          "encoding": {
            "x": {"field": "x", "type": "quantitative", "scale": {"domain": [-4.5, 4.5], "nice": false, "zero": false}, "axis": {"values": [-4, -3, -2, -1, 0, 1, 2, 3, 4], "labels": false, "title": null}},
            "y": {"field": "y", "type": "quantitative", "scale": {"domain": [0, 1], "nice": false}, "axis": {"values": [0, 1], "format": "d", "title": null, "labelPadding": 4}},
            "color": {"field": "s", "type": "nominal", "scale": {"domain": ["2/π", "6/π", "8/π"], "range": ["#4C72B0", "#DD8452", "#55A868"]}, "legend": {"title": null, "labelExpr": "'δ/Ω\u2002=\u2002' + datum.label"}}
          }
        },
        {
          "data": {"values": [{"x": -4.37, "y": 0.872, "t": "Δ = 0.75γ₀"}, {"x": -4.37, "y": 0.726, "t": "Ω = 2πγ₀"}]},
          "mark": {"type": "text", "align": "left", "baseline": "alphabetic", "fontSize": 24, "color": "#000"},
          "encoding": {"x": {"field": "x", "type": "quantitative"}, "y": {"field": "y", "type": "quantitative"}, "text": {"field": "t"}}
        },
        {
          "data": {"values": [{"x": -4.92, "y": 0.522, "t": "|E|"}]},
          "mark": {"type": "text", "align": "right", "baseline": "alphabetic", "fontSize": 27, "fontWeight": "bold", "color": "#000"},
          "encoding": {"x": {"field": "x", "type": "quantitative"}, "y": {"field": "y", "type": "quantitative"}, "text": {"field": "t"}}
        },
        {
          "data": {"values": [{"x": -4.925, "y": 0.559, "t": "2"}]},
          "mark": {"type": "text", "align": "left", "baseline": "alphabetic", "fontSize": 17, "color": "#000"},
          "encoding": {"x": {"field": "x", "type": "quantitative"}, "y": {"field": "y", "type": "quantitative"}, "text": {"field": "t"}}
        },
        {
          "data": {"values": [{"x": -5.11, "y": 0.434, "t": "arb. units"}]},
          "mark": {"type": "text", "align": "center", "baseline": "alphabetic", "fontSize": 16, "fontStyle": "italic", "color": "#000"},
          "encoding": {"x": {"field": "x", "type": "quantitative"}, "y": {"field": "y", "type": "quantitative"}, "text": {"field": "t"}}
        },
        {
          "data": {"values": [{"x": -5.706, "y": 0.997, "t": "a)"}]},
          "mark": {"type": "text", "align": "left", "baseline": "alphabetic", "fontSize": 22, "fontWeight": "bold", "color": "#000"},
          "encoding": {"x": {"field": "x", "type": "quantitative"}, "y": {"field": "y", "type": "quantitative"}, "text": {"field": "t"}}
        }
      ]
    },
    {
      "width": 709,
      "height": 297,
      "layer": [
        {
          "data": {"name": "b"},
          "mark": {"type": "line", "strokeWidth": 3, "strokeJoin": "round", "interpolate": "monotone"},
          "encoding": {
            "x": {"field": "x", "type": "quantitative", "scale": {"domain": [-4.5, 4.5], "nice": false, "zero": false}, "axis": {"values": [-4, -3, -2, -1, 0, 1, 2, 3, 4], "labelExpr": "datum.value % 2 == 0 ? toString(datum.value) : ''", "labelPadding": 5, "title": "(ω − ω₀)/Ω", "titleFontSize": 26, "titlePadding": 6}},
            "y": {"field": "y", "type": "quantitative", "scale": {"domain": [0, 1], "nice": false}, "axis": {"values": [0, 1], "format": "d", "title": null, "labelPadding": 4}},
            "color": {"field": "s", "type": "nominal", "scale": {"domain": ["2/π", "6/π", "8/π"], "range": ["#4C72B0", "#DD8452", "#55A868"]}, "legend": {"title": null, "labelExpr": "'δ/Ω\u2002=\u2002' + datum.label"}},
            "strokeDash": {"field": "s", "type": "nominal", "scale": {"domain": ["2/π", "6/π", "8/π"], "range": [[1, 0], [1, 0], [10, 5]]}, "legend": {"title": null, "labelExpr": "'δ/Ω\u2002=\u2002' + datum.label"}}
          }
        },
        {
          "data": {"values": [{"x": -4.37, "y": 0.875, "t": "Δ = 3γ₀"}, {"x": -4.37, "y": 0.726, "t": "Ω = 6πγ₀"}]},
          "mark": {"type": "text", "align": "left", "baseline": "alphabetic", "fontSize": 24, "color": "#000"},
          "encoding": {"x": {"field": "x", "type": "quantitative"}, "y": {"field": "y", "type": "quantitative"}, "text": {"field": "t"}}
        },
        {
          "data": {"values": [{"x": -4.92, "y": 0.522, "t": "|E|"}]},
          "mark": {"type": "text", "align": "right", "baseline": "alphabetic", "fontSize": 27, "fontWeight": "bold", "color": "#000"},
          "encoding": {"x": {"field": "x", "type": "quantitative"}, "y": {"field": "y", "type": "quantitative"}, "text": {"field": "t"}}
        },
        {
          "data": {"values": [{"x": -4.925, "y": 0.559, "t": "2"}]},
          "mark": {"type": "text", "align": "left", "baseline": "alphabetic", "fontSize": 17, "color": "#000"},
          "encoding": {"x": {"field": "x", "type": "quantitative"}, "y": {"field": "y", "type": "quantitative"}, "text": {"field": "t"}}
        },
        {
          "data": {"values": [{"x": -5.11, "y": 0.434, "t": "arb. units"}]},
          "mark": {"type": "text", "align": "center", "baseline": "alphabetic", "fontSize": 16, "fontStyle": "italic", "color": "#000"},
          "encoding": {"x": {"field": "x", "type": "quantitative"}, "y": {"field": "y", "type": "quantitative"}, "text": {"field": "t"}}
        },
        {
          "data": {"values": [{"x": -5.706, "y": 1.003, "t": "b)"}]},
          "mark": {"type": "text", "align": "left", "baseline": "alphabetic", "fontSize": 22, "fontWeight": "bold", "color": "#000"},
          "encoding": {"x": {"field": "x", "type": "quantitative"}, "y": {"field": "y", "type": "quantitative"}, "text": {"field": "t"}}
        }
      ]
    }
  ]
}
